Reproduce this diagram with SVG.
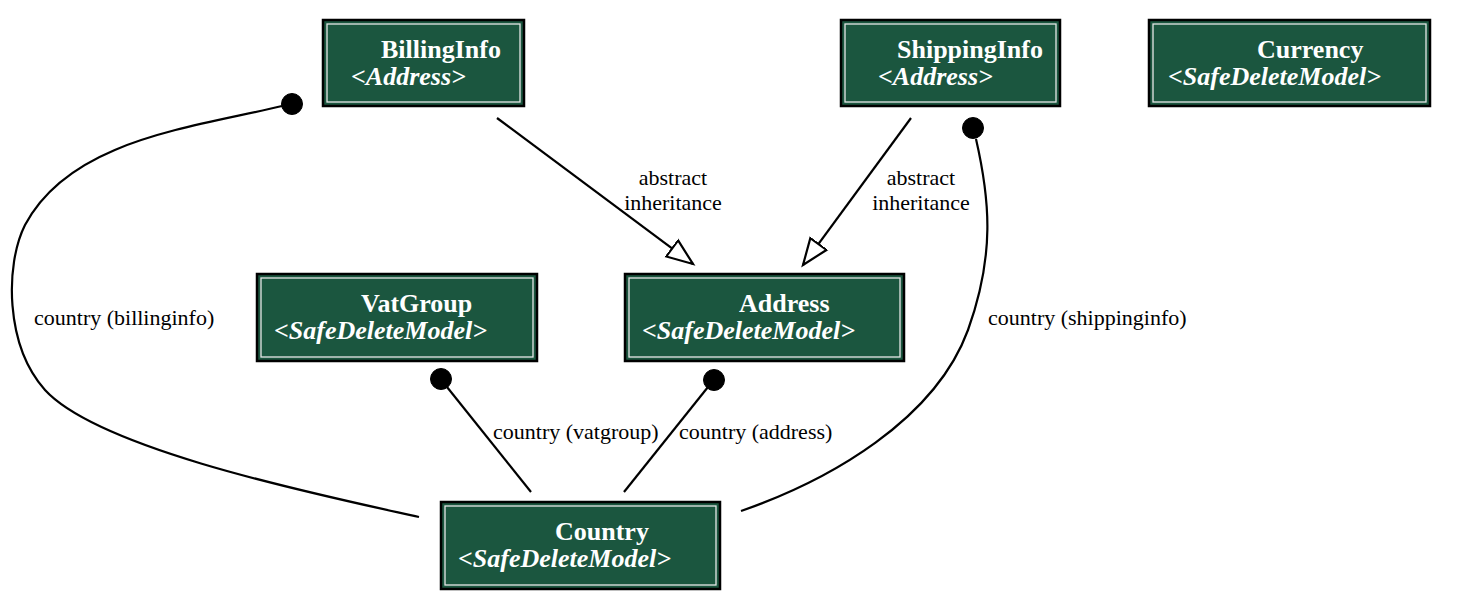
<svg xmlns="http://www.w3.org/2000/svg" width="1460" height="610" viewBox="0 0 1460 610">
<style>
.outer{fill:#1b563f;stroke:#000;stroke-width:2.5}
.inner{fill:none;stroke:#e6e6e6;stroke-width:1.3}
.t1{font-family:"Liberation Serif","Times New Roman",serif;font-size:26px;font-weight:bold;fill:#fff}
.t2{font-family:"Liberation Serif","Times New Roman",serif;font-size:26px;font-weight:bold;font-style:italic;fill:#fff}
.edge{fill:none;stroke:#000;stroke-width:2.2}
.dot{fill:#000;stroke:#000;stroke-width:1}
.lbl{font-family:"Liberation Serif","Times New Roman",serif;font-size:22px;fill:#000}
.mid{text-anchor:middle}
</style>
<defs>
<marker id="inh" markerUnits="userSpaceOnUse" markerWidth="30" markerHeight="24" viewBox="-1 -2 30 24" refX="26" refY="10" orient="auto">
<path d="M0,0 L26,10 L0,20 Z" fill="#fff" stroke="#000" stroke-width="2.2"/>
</marker>
</defs>
<g id="connectors">
<path class="edge" d="M497,118 L693,264" marker-end="url(#inh)"/>
<text class="lbl mid" x="673" y="185">abstract</text>
<text class="lbl mid" x="673" y="210">inheritance</text>
<path class="edge" d="M911,118 L803,265" marker-end="url(#inh)"/>
<text class="lbl mid" x="921" y="185">abstract</text>
<text class="lbl mid" x="921" y="210">inheritance</text>
<path class="edge" d="M419,517 C320,495 100,450 45,390 C5,345 5,265 25,225 C70,140 190,128 282,106"/>
<circle class="dot" cx="292" cy="104" r="10.5"/>
<text class="lbl" x="34" y="325">country (billinginfo)</text>
<path class="edge" d="M531,492 L447,387"/>
<circle class="dot" cx="441" cy="379" r="10.5"/>
<text class="lbl" x="493" y="439">country (vatgroup)</text>
<path class="edge" d="M624,492 L708,387"/>
<circle class="dot" cx="714" cy="380" r="10.5"/>
<text class="lbl" x="679" y="439">country (address)</text>
<path class="edge" d="M741,511 C830,480 935,420 968,330 C995,255 990,200 976,139"/>
<circle class="dot" cx="973" cy="128" r="10.5"/>
<text class="lbl" x="988" y="325">country (shippinginfo)</text>
</g>
<g id="BillingInfo">
<rect class="outer" x="323" y="20" width="201" height="86"/>
<rect class="inner" x="327" y="24" width="193" height="78"/>
<text class="t1" x="381" y="58">BillingInfo</text>
<text class="t2" x="351" y="85">&lt;Address&gt;</text>
</g>
<g id="ShippingInfo">
<rect class="outer" x="841" y="20" width="219" height="86"/>
<rect class="inner" x="845" y="24" width="211" height="78"/>
<text class="t1" x="897" y="58">ShippingInfo</text>
<text class="t2" x="878" y="85">&lt;Address&gt;</text>
</g>
<g id="Currency">
<rect class="outer" x="1149" y="20" width="281" height="86"/>
<rect class="inner" x="1153" y="24" width="273" height="78"/>
<text class="t1" x="1257" y="58">Currency</text>
<text class="t2" x="1168" y="85">&lt;SafeDeleteModel&gt;</text>
</g>
<g id="VatGroup">
<rect class="outer" x="257" y="274" width="280" height="87"/>
<rect class="inner" x="261" y="278" width="272" height="79"/>
<text class="t1" x="361" y="312">VatGroup</text>
<text class="t2" x="274" y="339">&lt;SafeDeleteModel&gt;</text>
</g>
<g id="Address">
<rect class="outer" x="625" y="274" width="279" height="87"/>
<rect class="inner" x="629" y="278" width="271" height="79"/>
<text class="t1" x="739" y="312">Address</text>
<text class="t2" x="642" y="339">&lt;SafeDeleteModel&gt;</text>
</g>
<g id="Country">
<rect class="outer" x="441" y="502" width="279" height="87"/>
<rect class="inner" x="445" y="506" width="271" height="79"/>
<text class="t1" x="555" y="540">Country</text>
<text class="t2" x="458" y="567">&lt;SafeDeleteModel&gt;</text>
</g>
</svg>
